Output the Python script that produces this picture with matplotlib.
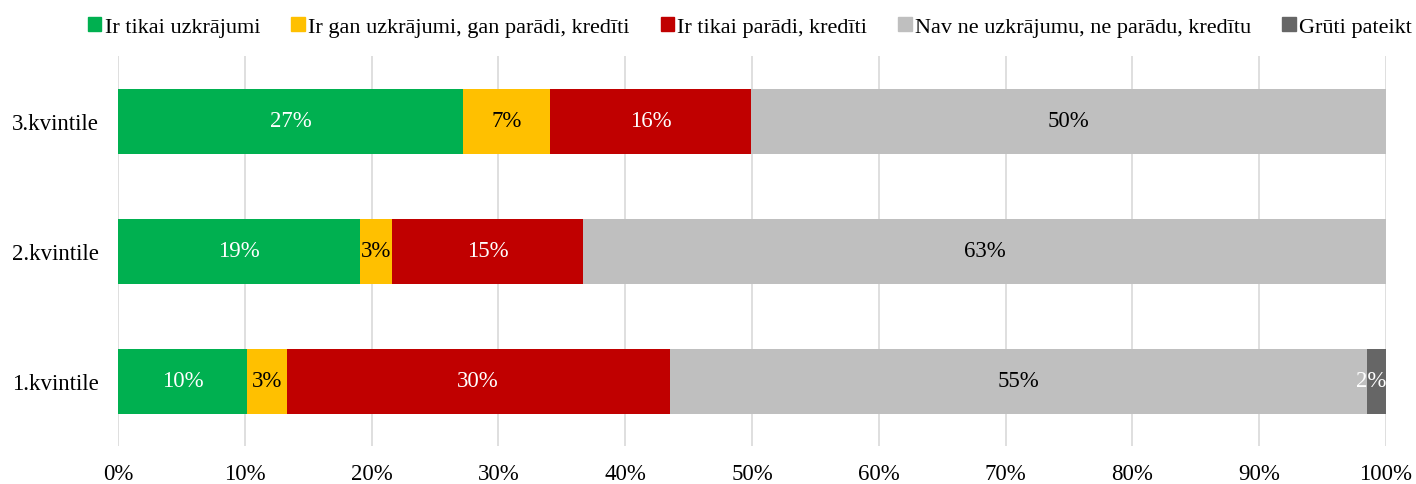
import matplotlib
matplotlib.use("Agg")
import matplotlib.pyplot as plt
from matplotlib.patches import Patch
import numpy as np

plt.rcParams['font.family'] = ['Liberation Serif', 'DejaVu Serif']

categories = ["1.kvintile", "2.kvintile", "3.kvintile"]
series_names = ["Ir tikai uzkrājumi", "Ir gan uzkrājumi, gan parādi, kredīti",
                "Ir tikai parādi, kredīti", "Nav ne uzkrājumu, ne parādu, kredītu",
                "Grūti pateikt"]
green = [10.2, 19.1, 27.2]
yellow = [3.1, 2.5, 6.9]
red = [30.2, 15.1, 15.8]
grey = [55.0, 63.3, 50.1]
darkgrey = [1.5, 0.0, 0.0]
labels_green = ["10%", "19%", "27%"]
labels_yellow = ["3%", "3%", "7%"]
labels_red = ["30%", "15%", "16%"]
labels_grey = ["55%", "63%", "50%"]
labels_dark = ["2%", "", ""]

series = [green, yellow, red, grey, darkgrey]
series_labels = [labels_green, labels_yellow, labels_red, labels_grey, labels_dark]
colors = ["#00b050", "#ffc000", "#c00000", "#bfbfbf", "#666666"]
text_colors = ["white", "black", "white", "black", "white"]

fs = 16.5
fig = plt.figure(figsize=(14.16, 4.85), dpi=100)
ax = fig.add_axes([118/1416, 1-447/485, (1386-118)/1416, (447-57)/485])

y = np.arange(len(categories))
left = np.zeros(len(categories))
for vals, labs, c, tc in zip(series, series_labels, colors, text_colors):
    vals = np.array(vals)
    ax.barh(y, vals, left=left, height=0.5, color=c, zorder=3)
    for i, (v, l) in enumerate(zip(vals, labs)):
        if l:
            xpos = left[i] + v / 2
            ha = "center"
            if v < 2:
                xpos = left[i] + v
                ha = "right"
            ax.text(xpos, y[i], l, ha=ha, va="center", color=tc, fontsize=fs, zorder=4)
    left += vals

ax.set_xlim(0, 100)
ax.set_ylim(-0.5, 2.5)
ax.set_xticks(np.arange(0, 101, 10))
ax.set_xticklabels([f"{t}%" for t in range(0, 101, 10)], fontsize=fs)
ax.set_yticks(y)
ax.set_yticklabels(categories, fontsize=fs)
ax.tick_params(axis='x', length=0, pad=12)
ax.tick_params(axis='y', length=0, pad=14)
ax.grid(axis='x', color='#d9d9d9', linewidth=1.2, zorder=0)
for s in ax.spines.values():
    s.set_visible(False)

handles = [Patch(color=c) for c in colors]
fig.legend(handles, series_names, loc='center', bbox_to_anchor=(750/1416, 1-28/485),
           ncol=5, frameon=False, fontsize=16, handlelength=0.6, handleheight=0.6,
           handletextpad=0.15, columnspacing=1.4)

fig.savefig("out.png", dpi=100)
